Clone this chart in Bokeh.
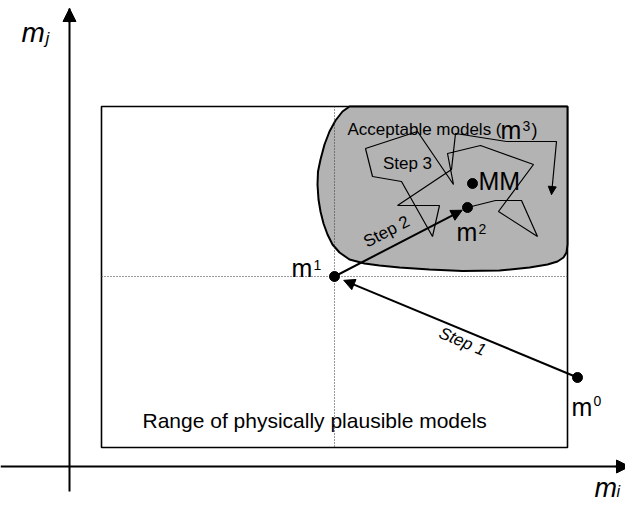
from bokeh.plotting import figure
from bokeh.models import Range1d, Arrow, NormalHead
from bokeh.core.properties import value
from bokeh.embed import file_html
from bokeh.resources import INLINE
import math

# ---- diagram data (screen-like coordinates, y grows downward) ----
axis_origin = (70, 467)
x_axis_extent = [1, 630]
y_axis_extent = [492, 9]

range_box = dict(left=102, right=568, top=107, bottom=448)

pt_names = ["m0", "m1", "m2", "MM"]
pt_x = [578, 335, 468, 473]
pt_y = [378, 277, 208, 184]

blob_x = [350, 343, 336, 330, 325, 321, 318.5, 318, 319, 321, 324, 328, 333, 340, 350,
          365, 380, 400, 430, 463, 500, 530, 548, 558, 564, 567, 568, 568]
blob_y = [107, 112, 121, 132, 145, 160, 172, 185, 200, 212, 224, 235, 245, 253, 260,
          264, 266, 268, 270, 271.5, 271, 268, 265, 262, 258, 253, 245, 107]

walk_x = [468, 496, 522, 538, 499, 534, 481, 448, 454, 418, 366, 373, 402, 433, 440,
          398, 452, 456, 507, 557, 552]
walk_y = [208, 201, 201, 237, 212, 165, 146, 154, 185, 132, 149, 177, 182, 237, 206,
          206, 170, 134, 142, 142, 195]

label_font = "Liberation Sans"

p = figure(width=625, height=505, x_range=Range1d(1, 626), y_range=Range1d(506, 1),
           output_backend="svg", toolbar_location=None, min_border=0)
p.axis.visible = False
p.grid.visible = False
p.outline_line_color = None
p.background_fill_color = "white"

# range of physically plausible models
p.quad(left=[range_box["left"]], right=[range_box["right"]], top=[range_box["top"]],
       bottom=[range_box["bottom"]], fill_color=None, line_color="black", line_width=1.6)

# acceptable models region
p.patch(blob_x, blob_y, fill_color="#b3b3b3", line_color="black", line_width=2)

# dotted guides through m1
m1x, m1y = pt_x[1], pt_y[1]
p.line([m1x, m1x], [range_box["top"], range_box["bottom"]], line_color="#333333",
       line_width=1, line_dash="1 2")
p.line([range_box["left"], range_box["right"]], [m1y, m1y], line_color="#333333",
       line_width=1, line_dash="1 2")

# coordinate axes
p.line(x_axis_extent, [axis_origin[1]] * 2, line_color="black", line_width=2)
p.add_layout(Arrow(end=NormalHead(size=13, fill_color="black", line_color="black"),
                   x_start=x_axis_extent[1] - 14, y_start=axis_origin[1],
                   x_end=x_axis_extent[1], y_end=axis_origin[1],
                   line_color="black", line_width=2))
p.line([axis_origin[0]] * 2, y_axis_extent, line_color="black", line_width=2)
p.add_layout(Arrow(end=NormalHead(size=13, fill_color="black", line_color="black"),
                   x_start=axis_origin[0], y_start=y_axis_extent[1] + 14,
                   x_end=axis_origin[0], y_end=y_axis_extent[1],
                   line_color="black", line_width=2))

# random walk (step 3)
p.line(walk_x, walk_y, line_color="black", line_width=1.2)
p.add_layout(Arrow(end=NormalHead(size=8, fill_color="black", line_color="black", line_width=1),
                   x_start=walk_x[-2], y_start=walk_y[-2], x_end=walk_x[-1], y_end=walk_y[-1],
                   line_color=None, line_width=0))


def tip(x0, y0, x1, y1, gap):
    dx, dy = x0 - x1, y0 - y1
    d = math.hypot(dx, dy)
    return x1 + dx / d * gap, y1 + dy / d * gap


# step 1 : m0 -> m1
tx, ty = tip(pt_x[0], pt_y[0], pt_x[1], pt_y[1], 10)
p.add_layout(Arrow(end=NormalHead(size=11, fill_color="black", line_color="black"),
                   x_start=pt_x[0], y_start=pt_y[0], x_end=tx, y_end=ty,
                   line_color="black", line_width=2))
# step 2 : m1 -> m2
tx, ty = tip(pt_x[1], pt_y[1], pt_x[2], pt_y[2], 6)
p.add_layout(Arrow(end=NormalHead(size=11, fill_color="black", line_color="black"),
                   x_start=pt_x[1], y_start=pt_y[1], x_end=tx, y_end=ty,
                   line_color="black", line_width=2))

# points
p.scatter(pt_x, pt_y, size=10, color="black")

# ---- texts ----
def txt(x, y, s, size, style="normal", align="left", baseline="alphabetic", angle=0.0):
    p.text(x=[x], y=[y], text=[s], text_font=value(label_font), text_font_size=size,
           text_font_style=style, text_align=align, text_baseline=baseline,
           angle=angle, text_color="black")

# axis labels
txt(22, 33, "m", "28px", "italic")
txt(46, 39, "j", "17px", "italic")
txt(595, 488, "m", "27px", "italic")
txt(617, 492, "i", "16px", "italic")

# point labels
txt(292, 268, "m", "25px")
txt(314, 265, "1", "14px")
txt(572, 407, "m", "25px")
txt(594, 401, "0", "14px")
txt(457, 232, "m", "25px")
txt(479, 229, "2", "14px")
txt(479, 181, "MM", "25px")

# region labels
txt(348, 130, "Acceptable models (", "17px")
txt(501, 130, "m", "25px")
txt(523, 126, "3", "14px")
txt(532, 130, ")", "18px")
txt(143, 421, "Range of physically plausible models", "21px")

# step labels
txt(408, 164, "Step 3", "17px", align="center", baseline="middle")
txt(387, 232, "Step 2", "17px", align="center", baseline="middle", angle=math.radians(27.5))
txt(463, 342, "Step 1", "17px", "italic", align="center", baseline="middle",
    angle=math.radians(-22.6))

open("out.html", "w").write(file_html(p, INLINE))
